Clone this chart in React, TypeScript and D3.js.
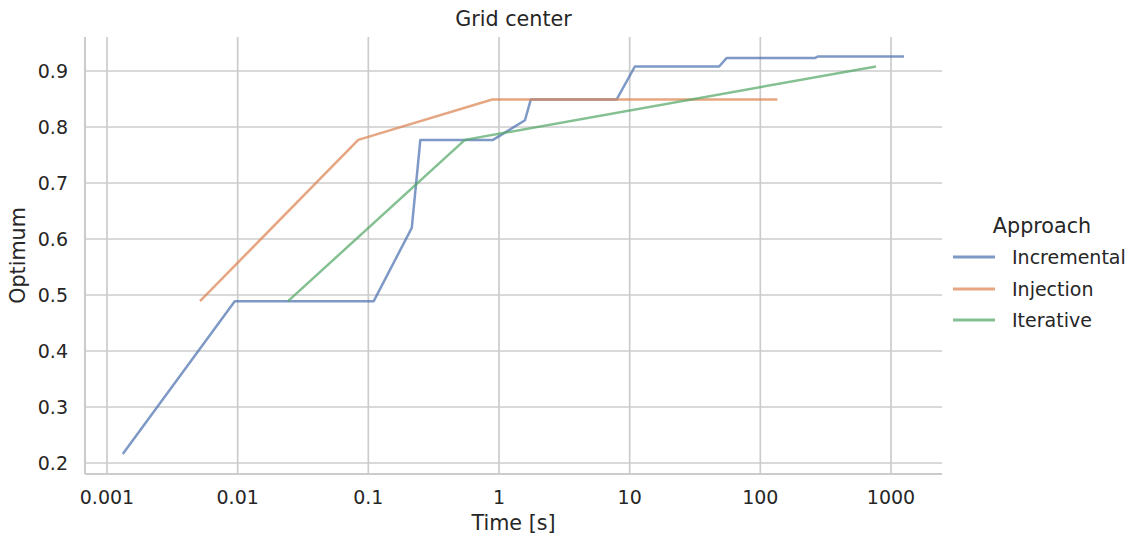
import React from "react";
import * as d3 from "d3";

const seriesNames = ["Incremental", "Injection", "Iterative"];
const seriesColors = ["#4c72b0", "#dd8452", "#55a868"];

const incrementalTime = [0.00132, 0.0095, 0.11, 0.215, 0.25, 0.9, 1.58, 1.75, 7.94, 10.96, 48.4, 55.1, 261, 277, 1259];
const incrementalOpt = [0.216, 0.489, 0.489, 0.62, 0.777, 0.777, 0.812, 0.849, 0.849, 0.908, 0.908, 0.923, 0.923, 0.926, 0.926];

const injectionTime = [0.00515, 0.0837, 0.887, 135];
const injectionOpt = [0.489, 0.777, 0.849, 0.849];

const iterativeTime = [0.0243, 0.548, 767];
const iterativeOpt = [0.489, 0.777, 0.908];

const xTicks = [0.001, 0.01, 0.1, 1, 10, 100, 1000];
const xTickLabels = ["0.001", "0.01", "0.1", "1", "10", "100", "1000"];
const yTicks = [0.2, 0.3, 0.4, 0.5, 0.6, 0.7, 0.8, 0.9];

const W = 1141;
const H = 538;
const left = 85;
const right = 942;
const top = 37;
const bottom = 474;
const font = "DejaVu Sans";
const textColor = "#262626";
const gridColor = "#cccccc";

export default function App() {
  const x = d3
    .scaleLog()
    .domain([Math.pow(10, -3 - 22 / 130.67), Math.pow(10, 3 + 51 / 130.67)])
    .range([left, right]);
  const y = d3.scaleLinear().domain([0.1804, 0.9607]).range([bottom, top]);

  const series = [
    { t: incrementalTime, v: incrementalOpt },
    { t: injectionTime, v: injectionOpt },
    { t: iterativeTime, v: iterativeOpt },
  ];

  const line = d3
    .line<[number, number]>()
    .x((d) => x(d[0]))
    .y((d) => y(d[1]));

  const legendX = 953;
  const legendYs = [257, 289, 320];

  return (
    <svg
      width={W}
      height={H}
      style={{ position: "absolute", left: 0, top: 0, background: "#fff" }}
      fontFamily={font}
    >
      <rect x={0} y={0} width={W} height={H} fill="#fff" />
      {xTicks.map((t) => (
        <line key={"gx" + t} x1={x(t)} x2={x(t)} y1={top} y2={bottom} stroke={gridColor} strokeWidth={1.7} />
      ))}
      {yTicks.map((t) => (
        <line key={"gy" + t} x1={left} x2={right} y1={y(t)} y2={y(t)} stroke={gridColor} strokeWidth={1.7} />
      ))}
      <line x1={left} x2={left} y1={top} y2={bottom} stroke={gridColor} strokeWidth={2.1} />
      <line x1={left} x2={right} y1={bottom} y2={bottom} stroke={gridColor} strokeWidth={2.1} />

      {series.map((s, i) => (
        <path
          key={seriesNames[i]}
          d={line(s.t.map((t, j) => [t, s.v[j]] as [number, number])) || ""}
          fill="none"
          stroke={seriesColors[i]}
          strokeOpacity={0.72}
          strokeWidth={2.5}
          strokeLinejoin="round"
        />
      ))}

      {xTicks.map((t, i) => (
        <text key={"xl" + t} x={x(t)} y={504} textAnchor="middle" fontSize={19} fill={textColor}>
          {xTickLabels[i]}
        </text>
      ))}
      {yTicks.map((t) => (
        <text key={"yl" + t} x={68} y={y(t) + 7} textAnchor="end" fontSize={19} fill={textColor}>
          {t.toFixed(1)}
        </text>
      ))}

      <text x={(left + right) / 2} y={530} textAnchor="middle" fontSize={20.7} fill={textColor}>
        Time [s]
      </text>
      <text
        transform={`translate(25, ${(top + bottom) / 2}) rotate(-90)`}
        textAnchor="middle"
        fontSize={20.7}
        fill={textColor}
      >
        Optimum
      </text>
      <text x={(left + right) / 2} y={26} textAnchor="middle" fontSize={20.7} fill={textColor}>
        Grid center
      </text>

      <text x={1042} y={233} textAnchor="middle" fontSize={20.7} fill={textColor}>
        Approach
      </text>
      {seriesNames.map((n, i) => (
        <g key={"lg" + n}>
          <line
            x1={legendX}
            x2={legendX + 42}
            y1={legendYs[i]}
            y2={legendYs[i]}
            stroke={seriesColors[i]}
            strokeOpacity={0.72}
            strokeWidth={2.8}
          />
          <text x={1012} y={legendYs[i] + 7} fontSize={19} fill={textColor}>
            {n}
          </text>
        </g>
      ))}
    </svg>
  );
}
